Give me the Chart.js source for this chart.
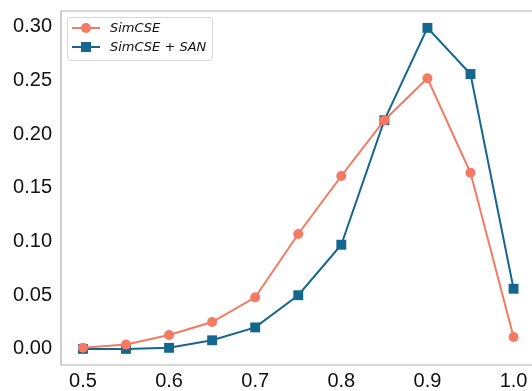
<!DOCTYPE html>
<html>
<head>
<meta charset="utf-8">
<script src="https://cdn.jsdelivr.net/npm/chart.js@4/dist/chart.umd.min.js"></script>
<style>
  html, body { margin: 0; padding: 0; background: #fff; overflow: hidden; }
  #wrap { width: 532px; height: 391px; }
</style>
</head>
<body>
<div id="wrap"><canvas id="chart" width="532" height="391"></canvas></div>
<script>
const thresholds = [0.5, 0.55, 0.6, 0.65, 0.7, 0.75, 0.8, 0.85, 0.9, 0.95, 1.0];
const simcse = [0.001, 0.004, 0.013, 0.025, 0.048, 0.107, 0.161, 0.213, 0.252, 0.164, 0.011];
const simcseSan = [0.000, 0.000, 0.001, 0.008, 0.020, 0.050, 0.097, 0.213, 0.299, 0.256, 0.056];
const seriesNames = ['SimCSE', 'SimCSE + SAN'];
const xTicks = [0.5, 0.6, 0.7, 0.8, 0.9, 1.0];
const yTicks = [0, 0.05, 0.10, 0.15, 0.20, 0.25, 0.30];

const salmon = '#F47A63';
const blue = '#15678F';
const spineColor = '#b0b0b0';

function toPoints(vals) {
    return thresholds.map((x, i) => ({ x: x, y: vals[i] }));
}

// frame (left, top, bottom spines) + custom legend with line+marker
const framePlugin = {
    id: 'frame',
    afterDraw(chart) {
        const ctx = chart.ctx;
        const a = chart.chartArea;
        ctx.save();
        ctx.strokeStyle = spineColor;
        ctx.lineWidth = 1.2;
        ctx.beginPath();
        ctx.moveTo(a.right + 10, a.top);
        ctx.lineTo(a.left, a.top);
        ctx.lineTo(a.left, a.bottom);
        ctx.lineTo(a.right + 10, a.bottom);
        ctx.stroke();

        // legend box
        const bx = a.left + 6, by = a.top + 6, bw = 145, bh = 43;
        ctx.fillStyle = 'rgba(255,255,255,0.8)';
        ctx.strokeStyle = '#d6d6d6';
        ctx.lineWidth = 1;
        ctx.beginPath();
        ctx.roundRect(bx + 0.5, by + 0.5, bw, bh, 3);
        ctx.fill();
        ctx.stroke();

        const items = chart.data.datasets;
        items.forEach((ds, i) => {
            const cy = by + 11 + i * 19;
            ctx.strokeStyle = ds.borderColor;
            ctx.lineWidth = 2;
            ctx.beginPath();
            ctx.moveTo(bx + 5, cy);
            ctx.lineTo(bx + 33, cy);
            ctx.stroke();
            ctx.fillStyle = ds.backgroundColor;
            if (ds.pointStyle === 'rect') {
                ctx.fillRect(bx + 19 - 5, cy - 5, 10, 10);
            } else {
                ctx.beginPath();
                ctx.arc(bx + 19, cy, 5, 0, Math.PI * 2);
                ctx.fill();
            }
            ctx.fillStyle = '#111';
            ctx.font = 'italic 13px "DejaVu Sans"';
            ctx.textBaseline = 'middle';
            ctx.textAlign = 'left';
            ctx.fillText(ds.label, bx + 43, cy + 1);
        });
        ctx.restore();
    }
};

const ctx = document.getElementById('chart').getContext('2d');
new Chart(ctx, {
    type: 'line',
    data: {
        datasets: [
            {
                label: seriesNames[0],
                data: toPoints(simcse),
                borderColor: salmon,
                backgroundColor: salmon,
                borderWidth: 2,
                pointStyle: 'circle',
                pointRadius: 5,
                pointBorderWidth: 0,
                tension: 0
            },
            {
                label: seriesNames[1],
                data: toPoints(simcseSan),
                borderColor: blue,
                backgroundColor: blue,
                borderWidth: 2,
                pointStyle: 'rect',
                pointRadius: 7,
                pointBorderWidth: 0,
                tension: 0
            }
        ]
    },
    options: {
        responsive: false,
        animation: false,
        clip: false,
        layout: { padding: { left: 0, right: 0, top: 11, bottom: 0 } },
        plugins: {
            legend: { display: false },
            tooltip: { enabled: false }
        },
        scales: {
            x: {
                type: 'linear',
                min: 0.4745,
                max: 1.0133,
                afterBuildTicks: (s) => { s.ticks = xTicks.map(v => ({ value: v })); },
                afterFit: (s) => { s.height = 26; s.paddingLeft = 0; s.paddingRight = 0; },
                grid: { display: false, drawTicks: false },
                border: { display: false },
                ticks: {
                    color: '#111',
                    font: { family: 'Liberation Sans', size: 20 },
                    padding: 4,
                    maxRotation: 0,
                    callback: (v) => v.toFixed(1)
                }
            },
            y: {
                min: -0.015,
                max: 0.3147,
                afterBuildTicks: (s) => { s.ticks = yTicks.map(v => ({ value: v })); },
                afterFit: (s) => { s.width = 61; s.paddingTop = 0; s.paddingBottom = 0; },
                grid: { display: false, drawTicks: false },
                border: { display: false },
                ticks: {
                    color: '#111',
                    font: { family: 'Liberation Sans', size: 20 },
                    padding: 9,
                    callback: (v) => v.toFixed(2)
                }
            }
        }
    },
    plugins: [framePlugin]
});
</script>
</body>
</html>
